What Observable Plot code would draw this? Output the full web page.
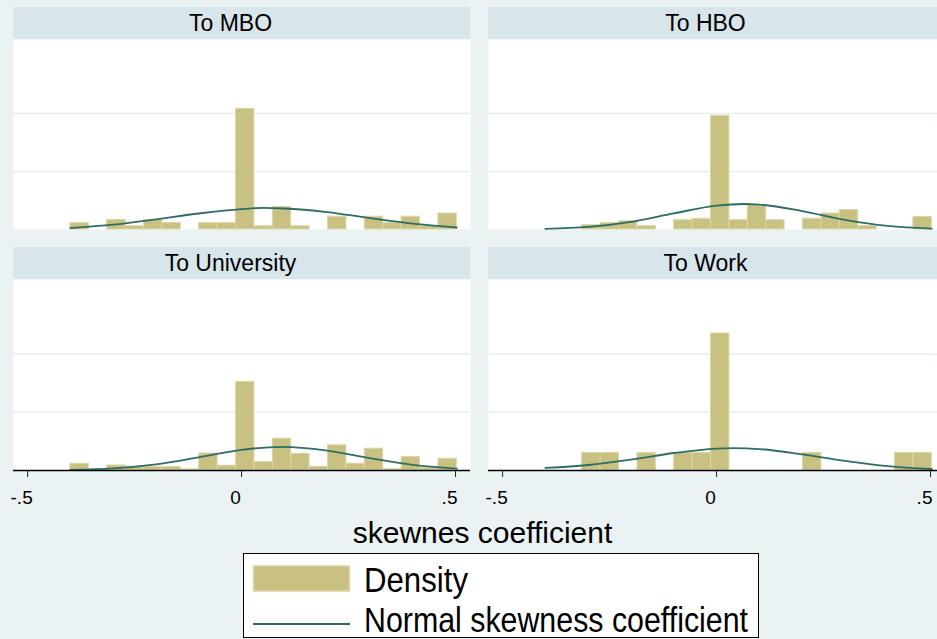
<!DOCTYPE html>
<html><head><meta charset="utf-8">
<script src="https://cdn.jsdelivr.net/npm/d3@7"></script>
<script src="https://cdn.jsdelivr.net/npm/@observablehq/plot@0.6"></script>
<style>
html,body{margin:0;padding:0;overflow:hidden;background:#EAF2F3;}
#chart{position:relative;width:937px;height:639px;overflow:hidden;background:#EAF2F3;font-family:"Liberation Sans",Arial,Helvetica,sans-serif;}
.hdr{position:absolute;width:457px;height:32px;background:#D8E5EA;color:#000;font-size:23px;line-height:32px;text-align:center;box-sizing:border-box;padding-right:22px;white-space:nowrap;}
.panel{position:absolute;display:block;}
#overlay{position:absolute;left:0;top:0;}
</style></head>
<body><div id="chart"></div>
<script>
// ---- data ----
const panelNames = ["To MBO", "To HBO", "To University", "To Work"];
const binEdges = [-0.4, -0.357, -0.314, -0.271, -0.228, -0.185, -0.142, -0.099, -0.056, -0.013, 0.030,
                  0.073, 0.116, 0.159, 0.202, 0.245, 0.288, 0.331, 0.374, 0.417, 0.460, 0.503];
const densityMBO  = [0.55, 0, 0.83, 0.28, 0.83, 0.55, 0, 0.55, 0.55, 10.4, 0.28, 1.93, 0.28, 0, 1.1, 0, 1.1, 0.55, 1.1, 0.28, 1.38];
const densityHBO  = [0, 0, 0.38, 0.57, 0.71, 0.29, 0, 0.8, 0.93, 9.8, 0.8, 2.05, 0.8, 0, 0.93, 1.38, 1.68, 0.29, 0, 0, 1.08];
const densityUni  = [0.58, 0, 0.43, 0.34, 0.3, 0.3, 0.1, 1.46, 0.41, 7.6, 0.73, 2.73, 1.44, 0.32, 2.16, 0.58, 1.87, 0.11, 1.16, 0.2, 1.01];
const densityWork = [0, 0, 1.51, 1.51, 0, 1.51, 0, 1.51, 1.51, 11.75, 0, 0, 0, 0, 1.51, 0, 0, 0, 0, 1.51, 1.51];

const normalX_MBO  = [-0.4, -0.3, -0.2, -0.1, 0, 0.05, 0.1, 0.2, 0.3, 0.4, 0.503];
const normalY_MBO  = [0.12, 0.42, 0.88, 1.38, 1.76, 1.86, 1.81, 1.5, 0.98, 0.5, 0.17];
const normalX_HBO  = [-0.4, -0.3, -0.2, -0.1, 0, 0.063, 0.1, 0.2, 0.3, 0.4, 0.503];
const normalY_HBO  = [0.05, 0.22, 0.66, 1.39, 2.05, 2.2, 2.15, 1.59, 0.83, 0.31, 0.08];
const normalX_Uni  = [-0.4, -0.3, -0.2, -0.1, 0, 0.095, 0.2, 0.3, 0.4, 0.503];
const normalY_Uni  = [0.05, 0.18, 0.53, 1.13, 1.77, 2.03, 1.71, 1.06, 0.48, 0.16];
const normalX_Work = [-0.4, -0.3, -0.2, -0.1, 0, 0.04, 0.1, 0.2, 0.3, 0.4, 0.503];
const normalY_Work = [0.22, 0.47, 0.93, 1.5, 1.88, 1.92, 1.84, 1.39, 0.83, 0.38, 0.13];

const xTicks = [-0.5, 0, 0.5];
const yGridTicks = [5, 10];
const xTitle = "skewnes coefficient";
const legendLabels = ["Density", "Normal skewness coefficient"];

// ---- styling ----
const barFill = "#C9C181", barStroke = "#DCD6A8", lineColor = "#2C6E66", gridColor = "#E6EEF0";
const xDomain = [-0.533, 0.535], yDomain = [0, 16.38];
const fmt = d => d === 0 ? "0" : (d < 0 ? "-" : "") + String(Math.abs(d)).replace(/^0/, "");

const densities = [densityMBO, densityHBO, densityUni, densityWork];
const normals = [[normalX_MBO, normalY_MBO], [normalX_HBO, normalY_HBO], [normalX_Uni, normalY_Uni], [normalX_Work, normalY_Work]];

const chart = document.getElementById("chart");
const lefts = [13, 488], hdrTops = [7, 247], plotTops = [39, 279], plotHeights = [190, 191];

panelNames.forEach((name, i) => {
  const col = i % 2, row = Math.floor(i / 2);
  const bottom = row === 1;
  const bars = densities[i].map((v, k) => ({x1: binEdges[k], x2: binEdges[k + 1], y: v})).filter(d => d.y > 0);
  const curve = normals[i][0].map((x, k) => ({x, y: normals[i][1][k]}));

  const marks = [
    Plot.frame({fill: "white", stroke: "none"}),
    Plot.ruleY(yGridTicks, {stroke: gridColor, strokeWidth: 1.5}),
    Plot.rectY(bars, {x1: "x1", x2: "x2", y: "y", fill: barFill, stroke: barStroke, strokeWidth: 1}),
    Plot.line(curve, {x: "x", y: "y", stroke: lineColor, strokeWidth: 1.8, curve: "monotone-x"})
  ];
  if (bottom) {
    marks.push(Plot.ruleY([0], {stroke: "#000", strokeWidth: 1.3}));
    marks.push(Plot.axisX(xTicks, {tickSize: 7, tickFormat: () => "", label: null, stroke: "#222"}));
    marks.push(Plot.axisX(xTicks, {tickSize: 0, tickPadding: 20, dx: -6, tickFormat: fmt, label: null, fontSize: 19, fill: "#000"}));
  }
  const svg = Plot.plot({
    width: 457,
    height: plotHeights[row] + (bottom ? 45 : 0),
    marginLeft: 0, marginRight: 0, marginTop: 0, marginBottom: bottom ? 45 : 0,
    x: {domain: xDomain, axis: null},
    y: {domain: yDomain, axis: null},
    style: {background: "transparent", color: "#000", fontFamily: "'Liberation Sans', Arial, sans-serif", overflow: "visible"},
    marks
  });
  svg.classList.add("panel");
  svg.style.left = lefts[col] + "px";
  svg.style.top = plotTops[row] + "px";
  chart.appendChild(svg);

  const hdr = document.createElement("div");
  hdr.className = "hdr";
  hdr.style.left = lefts[col] + "px";
  hdr.style.top = hdrTops[row] + "px";
  hdr.textContent = name;
  chart.appendChild(hdr);
});

// x title and legend
const NS = "http://www.w3.org/2000/svg";
const ov = document.createElementNS(NS, "svg");
ov.setAttribute("id", "overlay");
ov.setAttribute("width", 937);
ov.setAttribute("height", 639);
ov.setAttribute("font-family", "'Liberation Sans', Arial, sans-serif");
ov.innerHTML = `
  <text x="482.5" y="543" text-anchor="middle" font-size="30" fill="#000">${xTitle}</text>
  <rect x="243.5" y="553.5" width="515" height="84" fill="#fff" stroke="#000" stroke-width="1"/>
  <rect x="253.5" y="566" width="96" height="25" fill="${barFill}" stroke="${barStroke}" stroke-width="1.5"/>
  <line x1="253" x2="350" y1="624" y2="624" stroke="${lineColor}" stroke-width="2"/>
  <text x="364" y="591.5" font-size="35" fill="#000" textLength="104" lengthAdjust="spacingAndGlyphs">${legendLabels[0]}</text>
  <text x="364" y="631.5" font-size="35" fill="#000" textLength="384" lengthAdjust="spacingAndGlyphs">${legendLabels[1]}</text>
`;
chart.appendChild(ov);
</script>
</body></html>
